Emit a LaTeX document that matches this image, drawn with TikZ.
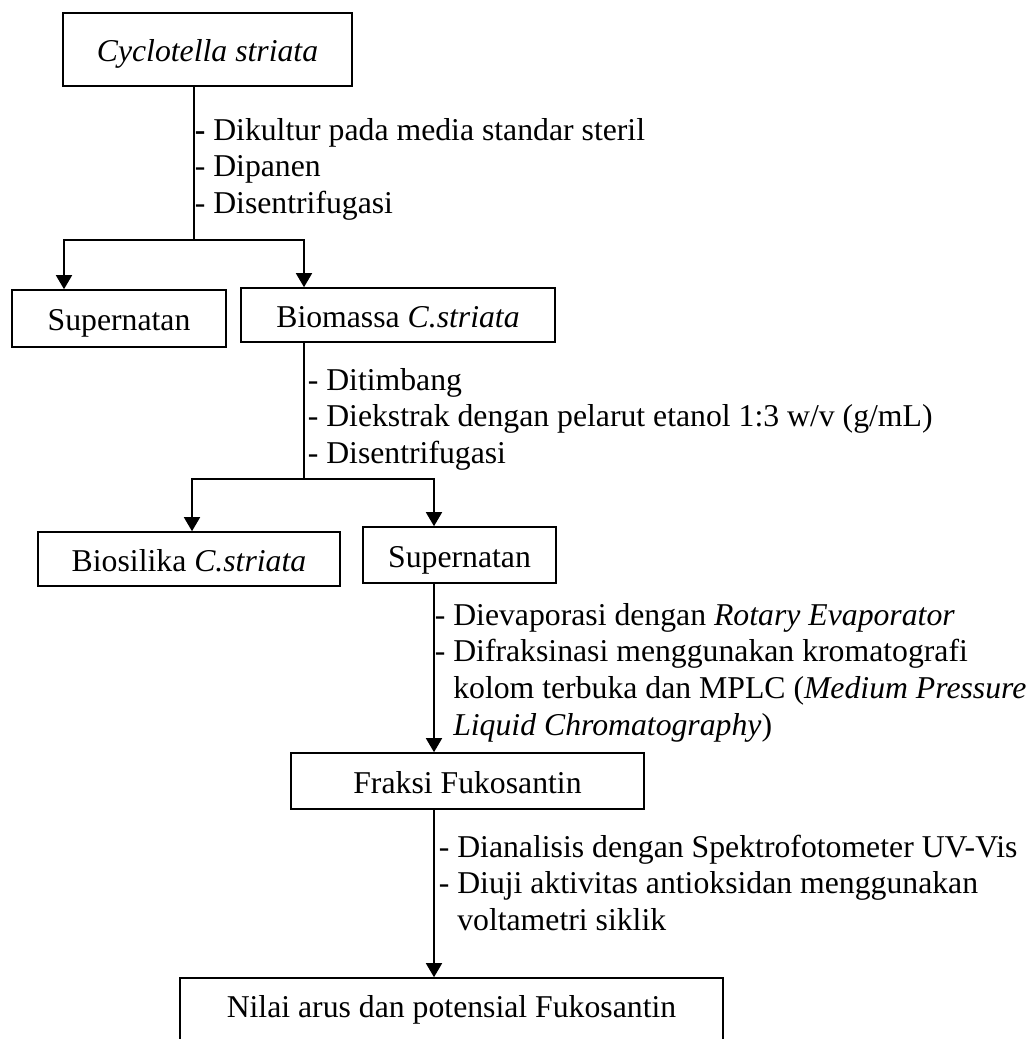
\documentclass[tikz,border=0pt]{standalone}
\usepackage{fontspec}
\setmainfont{Liberation Serif}
\usetikzlibrary{arrows.meta}
\begin{document}
\begin{tikzpicture}[x=0.75pt,y=-0.75pt,
  font=\fontsize{23.8pt}{27.5pt}\selectfont,
  box/.style={draw,line width=1.2pt,inner sep=0pt,text height=21.4pt,text depth=3.4pt},
  lbl/.style={anchor=north west,inner sep=0pt,align=left},
  conn/.style={line width=1.2pt},
  arr/.style={conn,-{Triangle[width=12pt,length=10.5pt]}}]
\useasboundingbox (0,0) rectangle (1035,1039);
\clip (0,0) rectangle (1035,1039);

% boxes
\node[box,minimum width=216.75pt,minimum height=54.75pt] (cyc) at (207.5,49.5) {\textit{Cyclotella striata}};
\node[box,minimum width=160.5pt,minimum height=42.75pt] (sup1) at (119,318.5) {Supernatan};
\node[box,minimum width=235.5pt,minimum height=40.5pt] (bio) at (398,315) {Biomassa \textit{C.striata}};
\node[box,minimum width=226.5pt,minimum height=40.5pt] (bsil) at (189,559) {Biosilika \textit{C.striata}};
\node[box,minimum width=144.75pt,minimum height=42pt] (sup2) at (459.5,555) {Supernatan};
\node[box,minimum width=264.75pt,minimum height=42pt] (frak) at (467.5,781) {Fraksi Fukosantin};
\node[box,minimum width=407.25pt,minimum height=67.5pt,text height=16pt,text depth=25pt] (nilai) at (451.5,1023) {Nilai arus dan potensial Fukosantin};

% junction coordinates
\coordinate (j1) at (194,240);
\coordinate (a1) at (64,240);
\coordinate (a2) at (304,240);
\coordinate (j2) at (304,479);
\coordinate (b1) at (192,479);
\coordinate (b2) at (434,479);

% connectors
\draw[conn] (cyc.south -| j1) -- (j1);
\draw[arr] (j1) -- (a1) -- (a1 |- sup1.north);
\draw[arr] (j1) -- (a2) -- (a2 |- bio.north);
\draw[conn] (bio.south -| j2) -- (j2);
\draw[arr] (j2) -- (b1) -- (b1 |- bsil.north);
\draw[arr] (j2) -- (b2) -- (b2 |- sup2.north);
\draw[arr] (sup2.south -| b2) -- (frak.north -| b2);
\draw[arr] (frak.south -| b2) -- (nilai.north -| b2);

% labels
\node[lbl] (l1) at (213,113.3) {\rule{0pt}{20pt}\llap{\textbf{-} }Dikultur pada media standar steril\\\llap{- }Dipanen\\\llap{- }Disentrifugasi};
\node[lbl] (l2) at (326,363.3) {\rule{0pt}{20pt}\llap{- }Ditimbang\\\llap{- }Diekstrak dengan pelarut etanol 1:3 w/v (g/mL)\\\llap{- }Disentrifugasi};
\node[lbl] (l3) at (453,598.3) {\rule{0pt}{20pt}\llap{- }Dievaporasi dengan \textit{Rotary Evaporator}\\\llap{- }Difraksinasi menggunakan kromatografi\\kolom terbuka dan MPLC (\textit{Medium Pressure}\\\textit{Liquid Chromatography})};
\node[lbl] (l4) at (457,830.3) {\rule{0pt}{20pt}\llap{- }Dianalisis dengan Spektrofotometer UV-Vis\\\llap{- }Diuji aktivitas antioksidan menggunakan\\voltametri siklik};
\end{tikzpicture}
\end{document}
